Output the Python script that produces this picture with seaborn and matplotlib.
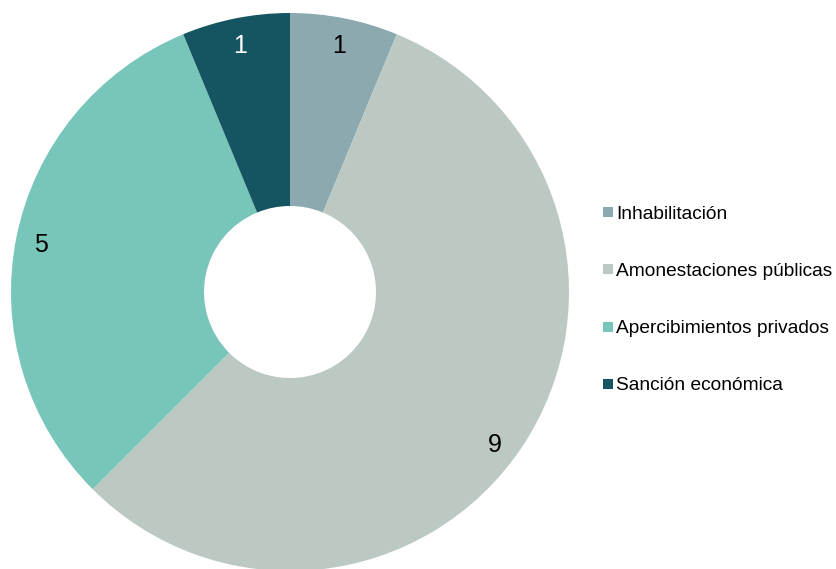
import numpy as np
import matplotlib
matplotlib.use("Agg")
import matplotlib.pyplot as plt
from matplotlib.lines import Line2D
import seaborn as sns

categories = ["Inhabilitación", "Amonestaciones públicas", "Apercibimientos privados", "Sanción económica"]
values = [1, 9, 5, 1]
colors = ["#8CA9AF", "#BCC9C3", "#78C5B9", "#145561"]
label_colors = ["black", "black", "black", "white"]

sns.set_theme(style="white")
plt.rcParams["font.family"] = ["Liberation Sans", "DejaVu Sans"]
plt.rcParams["text.color"] = "black"
palette = sns.color_palette(colors)

W, H = 836, 569
fig = plt.figure(figsize=(W / 100, H / 100), dpi=100)
ax = fig.add_axes([0, 0, 1, 1])

cx, cy, R = 290, 292, 279
inner = 86 / R

wedges, _ = ax.pie(
    values,
    colors=palette,
    startangle=90,
    counterclock=False,
    radius=1,
    wedgeprops=dict(width=1 - inner, linewidth=0),
)

# value labels near the outer edge of each wedge
nudge = [0.0, -2.5, 0.0, 0.0]
for w, v, c, dn in zip(wedges, values, label_colors, nudge):
    ang = np.deg2rad((w.theta1 + w.theta2) / 2 + dn)
    r = 0.91
    ax.text(r * np.cos(ang), r * np.sin(ang) - 3 / R, str(v), color=c,
            fontsize=18, ha="center", va="center")

ax.set_xlim(-cx / R, (W - cx) / R)
ax.set_ylim(-(H - cy) / R, cy / R)
ax.set_aspect("equal")
ax.axis("off")

handles = [Line2D([0], [0], marker="s", linestyle="none", markersize=7,
                  markerfacecolor=c, markeredgewidth=0) for c in palette]
fig.legend(handles, categories, loc="center left",
           bbox_to_anchor=(599 / W, 1 - 300 / H), frameon=False,
           fontsize=13.75, handletextpad=0.0, labelspacing=2.08,
           handlelength=0.9, borderaxespad=0, borderpad=0,
           labelcolor="black")

fig.savefig("out.png", dpi=100, facecolor="white")
